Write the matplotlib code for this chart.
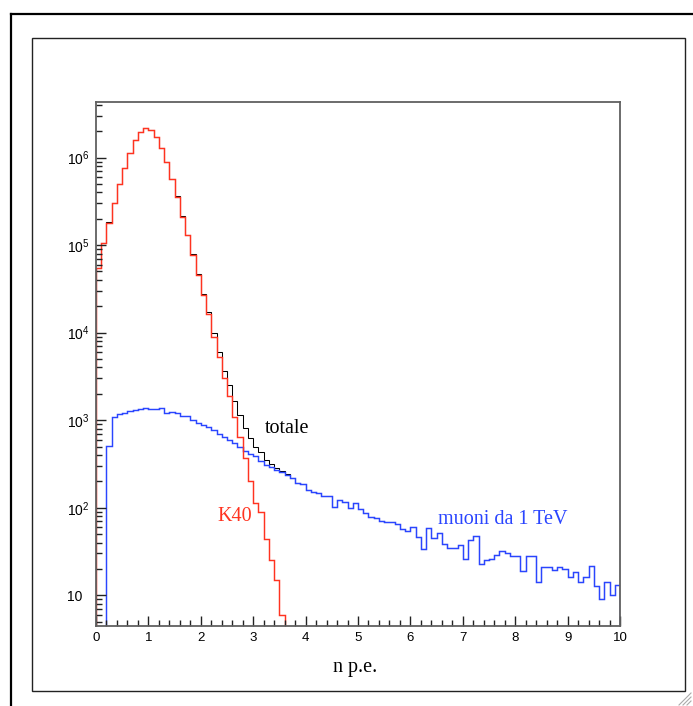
import numpy as np
import matplotlib.pyplot as plt
from matplotlib.lines import Line2D
from matplotlib.ticker import LogLocator, MultipleLocator, NullFormatter

plt.rcParams['font.family'] = ['Liberation Sans', 'DejaVu Sans']
plt.rcParams['mathtext.fontset'] = 'custom'
plt.rcParams['mathtext.rm'] = 'Liberation Sans'
plt.rcParams['mathtext.it'] = 'Liberation Sans:italic'

# istogrammi: 100 bin da 0.1 fra 0 e 10 (n p.e.)
bin_edges = np.linspace(0, 10, 101)

k40 = [5.5e4, 1.05e5, 1.81e5, 3.02e5, 4.93e5, 7.59e5, 1.14e6, 1.60e6, 1.94e6, 2.17e6,
       2.04e6, 1.74e6, 1.28e6, 8.9e5, 5.68e5, 3.59e5, 2.12e5, 1.29e5, 7.8e4, 4.57e4,
       2.7e4, 1.64e4, 9.0e3, 5.3e3, 3.0e3, 1.9e3, 1.1e3, 640, 370, 204,
       112, 90, 44, 25, 15, 6] + [0] * 64

muoni = [0, 0, 510, 1100, 1170, 1220, 1280, 1310, 1360, 1370,
         1340, 1360, 1370, 1220, 1250, 1200, 1120, 1120, 1000, 920,
         880, 830, 770, 700, 645, 600, 550, 500, 445, 415,
         390, 345, 308, 290, 270, 255, 237, 217, 190, 187,
         160, 153, 146, 136, 136, 103, 123, 117, 99, 112,
         96, 88, 79, 76, 71, 69, 69, 66, 57, 54,
         61, 46, 34, 58, 45, 52, 39, 35, 35, 38,
         26, 43, 48, 23, 25, 26, 29, 32, 30, 28,
         28, 19, 28, 28, 14, 21, 21, 19.5, 21, 20,
         16, 18.6, 14, 16, 21.6, 12.8, 9, 14, 10, 13]

totale = [5.5e4, 1.05e5, 1.815e5, 3.03e5, 4.94e5, 7.60e5, 1.141e6, 1.601e6, 1.941e6, 2.171e6,
          2.041e6, 1.741e6, 1.281e6, 8.91e5, 5.69e5, 3.60e5, 2.13e5, 1.30e5, 7.9e4, 4.66e4,
          2.79e4, 1.72e4, 9.8e3, 6.0e3, 3.65e3, 2.5e3, 1.65e3, 1.14e3, 815, 620,
          500, 435, 352, 315, 285, 261, 240, 220, 192, 189,
          160, 153, 146, 136, 136, 103, 123, 117, 99, 112,
          96, 88, 79, 76, 71, 69, 69, 66, 57, 54,
          61, 46, 34, 58, 45, 52, 39, 35, 35, 38,
          26, 43, 48, 23, 25, 26, 29, 32, 30, 28,
          28, 19, 28, 28, 14, 21, 21, 19.5, 21, 20,
          16, 18.6, 14, 16, 21.6, 12.8, 9, 14, 10, 13]

red = '#ff3320'
blue = '#2a45ff'

W, H = 693, 706
fig = plt.figure(figsize=(W / 100, H / 100), dpi=100)

# cornici della finestra
fig.add_artist(Line2D([10.7 / W, 10.7 / W], [0, 1 - 14 / H], color='black', lw=1.6))
fig.add_artist(Line2D([10.7 / W, 1], [1 - 14 / H, 1 - 14 / H], color='black', lw=1.6))
fig.add_artist(plt.Rectangle((31.7 / W, 1 - 691 / H), (685 - 31.7) / W, (691 - 37.7) / H,
                             transform=fig.transFigure, fill=False, ec='#222222', lw=1.0))
for d in [4, 8, 12]:
    fig.add_artist(Line2D([(691 - d) / W, 691 / W], [1 - 705 / H, 1 - (705 - d) / H],
                          color='#aaaaaa', lw=0.8))

ax = fig.add_axes([96 / W, 1 - 625.7 / H, (620 - 96) / W, (625.7 - 101.7) / H])

def to_plot(v):
    return np.maximum(np.array(v, dtype=float), 1.0)

ax.stairs(to_plot(totale), bin_edges, baseline=1.0, color='black', lw=0.75)
ax.stairs(to_plot(muoni), bin_edges, baseline=1.0, color=blue, lw=1.05)
ax.stairs(to_plot(k40), bin_edges, baseline=1.0, color=red, lw=1.05)

ax.set_yscale('log')
ax.set_xlim(0, 10)
ax.set_ylim(4.49, 4.35e6)

for s in ax.spines.values():
    s.set_color('#606060')
    s.set_linewidth(1.3)

ax.xaxis.set_major_locator(MultipleLocator(1))
ax.xaxis.set_minor_locator(MultipleLocator(0.2))
ax.yaxis.set_major_locator(LogLocator(base=10, numticks=10))
ax.yaxis.set_minor_locator(LogLocator(base=10, subs=np.arange(2, 10), numticks=20))
ax.yaxis.set_minor_formatter(NullFormatter())
ax.set_yticks([10, 1e2, 1e3, 1e4, 1e5, 1e6],
              labels=['10', '$10^{2}$', '$10^{3}$', '$10^{4}$', '$10^{5}$', '$10^{6}$'])
ax.set_xticks(range(11), labels=[str(i) for i in range(11)])
ax.tick_params(which='both', direction='in', top=False, right=False, color='#222222', width=1.0)
ax.tick_params(axis='y', which='major', length=7.5, pad=21, labelsize=10)
ax.tick_params(axis='y', which='minor', length=4.3)
ax.tick_params(axis='x', which='major', length=7.5, pad=4.5, labelsize=9.5)
ax.tick_params(axis='x', which='minor', length=4.3)
for lab in ax.get_yticklabels():
    lab.set_horizontalalignment('left')

# etichette
serif = ['Liberation Serif', 'DejaVu Serif']
fig.text(265 / W, 1 - 433 / H, 'totale', color='black', family=serif, fontsize=14.5)
fig.text(217 / W, 1 - 521 / H, 'K40', color=red, family=serif, fontsize=14.5)
fig.text(438 / W, 1 - 524 / H, 'muoni da 1 TeV', color=blue, family=serif, fontsize=14.5)
fig.text(355.5 / W, 1 - 672 / H, 'n p.e.', color='black', family=serif, fontsize=14.5, ha='center')

fig.savefig('out.png', dpi=100)
